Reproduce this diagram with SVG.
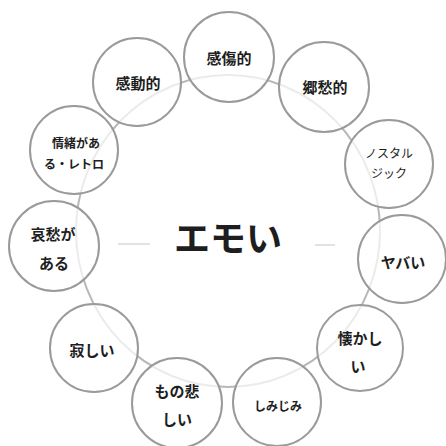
<svg xmlns="http://www.w3.org/2000/svg" width="446" height="446" viewBox="0 0 446 446">
<style>
.node circle{fill:#fff;fill-opacity:0.72;stroke:#9a9a9a;stroke-width:2}
.lbl{font-family:"Noto Sans CJK JP","Noto Sans",sans-serif;font-weight:bold;fill:#1e1e1e;text-anchor:middle;dominant-baseline:central}
.m{font-size:15px}
.s{font-size:12px}
.t{font-size:12px;font-weight:normal}
.ring{fill:none;stroke:#b8b8b8;stroke-width:2}
.faint{stroke:#e2e2e2;stroke-width:2}
</style>
<rect width="446" height="446" fill="#fff"/>
<g id="connectors">
<ellipse class="ring" cx="228" cy="231" rx="152" ry="156"/>
<line class="faint" x1="118" y1="244" x2="150" y2="244"/>
<line class="faint" x1="315" y1="245" x2="335" y2="245"/>
</g>
<text class="lbl" x="228" y="236" style="font-size:36px;font-weight:bold">エモい</text>
<g id="n-kanshou" class="node"><circle cx="229" cy="57" r="45"/><text class="lbl m" x="229" y="57">感傷的</text></g>
<g id="n-kyoushuu" class="node"><circle cx="324" cy="87" r="45"/><text class="lbl m" x="325" y="86">郷愁的</text></g>
<g id="n-nostalgic" class="node"><circle cx="389" cy="164" r="44"/><text class="lbl t" x="389" y="152">ノスタル</text><text class="lbl t" x="389" y="172">ジック</text></g>
<g id="n-yabai" class="node"><circle cx="402" cy="259" r="44"/><text class="lbl m" x="403" y="261">ヤバい</text></g>
<g id="n-natsukashii" class="node"><circle cx="360" cy="348" r="43"/><text class="lbl m" x="360" y="337">懐かし</text><text class="lbl m" x="358" y="365">い</text></g>
<g id="n-shimijimi" class="node"><circle cx="277" cy="402" r="44"/><text class="lbl s" x="278" y="405">しみじみ</text></g>
<g id="n-monoganashii" class="node"><circle cx="177" cy="403" r="45"/><text class="lbl m" x="177" y="390">もの悲</text><text class="lbl m" x="177" y="418">しい</text></g>
<g id="n-sabishii" class="node"><circle cx="94" cy="348" r="44"/><text class="lbl m" x="92" y="349">寂しい</text></g>
<g id="n-aishuu" class="node"><circle cx="54" cy="246" r="45"/><text class="lbl m" x="53" y="233">哀愁が</text><text class="lbl m" x="54" y="262">ある</text></g>
<g id="n-jouchoretro" class="node"><circle cx="74" cy="150" r="44"/><text class="lbl s" x="76" y="142">情緒があ</text><text class="lbl s" x="74" y="163">る・レトロ</text></g>
<g id="n-kandou" class="node"><circle cx="137" cy="82" r="44"/><text class="lbl m" x="138" y="82">感動的</text></g>
</svg>
